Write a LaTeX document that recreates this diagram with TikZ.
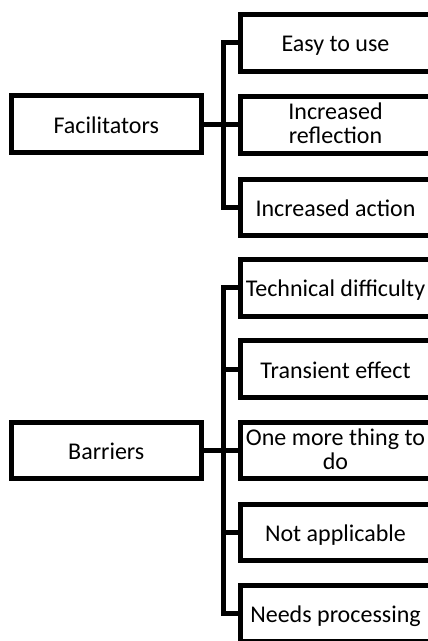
\documentclass[tikz,border=0pt]{standalone}
\usepackage{fontspec}
\setmainfont{Carlito}
\begin{document}
\begin{tikzpicture}[x=1pt,y=-1pt,
  box/.style={draw=black, line width=5pt, fill=white,
    minimum width=189.5pt, minimum height=56.5pt, inner sep=0pt,
    align=center, font=\fontsize{24pt}{24pt}\selectfont,
    text height=18pt, text depth=0pt},
  twoline/.style={text height=37pt, text depth=0pt},
  conn/.style={draw=black, line width=5pt}]
\useasboundingbox (0,0) rectangle (428,641);

% left-hand categories
\node[box] (fac) at (106.25,124) {Facilitators};
\node[box] (bar) at (106.25,450.5) {Barriers};

% facilitators
\node[box] (easy) at (335.5,42.75) {Easy to use};
\node[box,twoline] (refl) at (335.5,124.75) {Increased\\reflection};
\node[box] (act) at (335.5,207.25) {Increased action};

% barriers
\node[box] (tech) at (335.5,287.75) {Technical difficulty};
\node[box] (trans) at (335.5,369) {Transient effect};
\node[box,twoline] (more) at (335.5,450.5) {One more thing to\\do};
\node[box] (na) at (335.5,532.5) {Not applicable};
\node[box] (proc) at (335.5,613.5) {Needs processing};

% elbow connectors
\foreach \c in {easy,refl,act}
  \draw[conn] (fac.east) -- ++(20,0) |- (\c.west);
\foreach \c in {tech,trans,more,na,proc}
  \draw[conn] (bar.east) -- ++(20,0) |- (\c.west);
\end{tikzpicture}
\end{document}
